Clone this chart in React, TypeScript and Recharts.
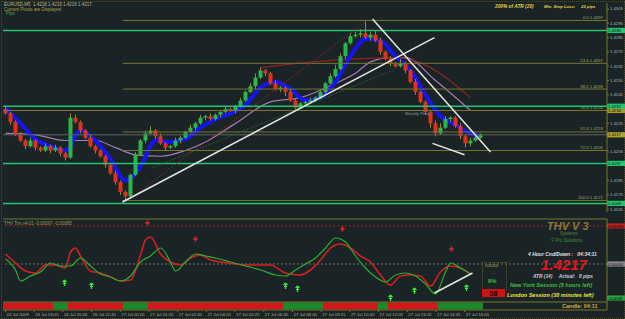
import React from 'react';
import { ComposedChart, Bar, Line, XAxis, YAxis, ReferenceLine, Scatter, Cell } from 'recharts';

// EURUSD M5 closes, read left to right off the price panel
const closes = [
  1.4232, 1.4226, 1.4217, 1.4213, 1.4209, 1.4213, 1.4208, 1.4206, 1.4209, 1.4206, 1.4208, 1.4204,
  1.4201, 1.4229, 1.4226, 1.4220, 1.4215, 1.4209, 1.4206, 1.4202, 1.4196, 1.4190, 1.4184, 1.4177,
  1.4174, 1.4189, 1.4203, 1.4213, 1.4218, 1.4220, 1.4216, 1.4211, 1.4208, 1.4209, 1.4213, 1.4215,
  1.4219, 1.4222, 1.4225, 1.4229, 1.4230, 1.4228, 1.4231, 1.4233, 1.4235, 1.4234, 1.4237, 1.4241,
  1.4247, 1.4251, 1.4257, 1.4262, 1.4260, 1.4253, 1.4249, 1.4250, 1.4247, 1.4241, 1.4236, 1.4239,
  1.4240, 1.4241, 1.4243, 1.4247, 1.4253, 1.4258, 1.4263, 1.4272, 1.4281, 1.4286, 1.4287, 1.4288,
  1.4285, 1.4287, 1.4283, 1.4275, 1.4270, 1.4267, 1.4265, 1.4267, 1.4262, 1.4254, 1.4247, 1.4240,
  1.4233, 1.4225, 1.4218, 1.4222, 1.4228, 1.4229, 1.4223, 1.4216, 1.4211, 1.4213, 1.4215, 1.4217,
];
const firstOpen = 1.4235;

// wick lengths in pips above / below the body
const wickUp = [
  2, 1, 1, 2, 1, 2, 1, 1, 2, 1, 2, 1,
  1, 3, 2, 1, 1, 2, 1, 1, 1, 1, 2, 1,
  1, 1, 2, 1, 2, 3, 1, 2, 1, 1, 2, 1,
  1, 2, 1, 2, 1, 2, 1, 1, 2, 1, 1, 2,
  1, 2, 3, 2, 1, 1, 2, 1, 1, 2, 1, 1,
  1, 2, 1, 2, 1, 2, 3, 2, 1, 2, 2, 3,
  9, 2, 3, 2, 1, 2, 1, 3, 1, 1, 2, 1,
  1, 1, 2, 3, 2, 1, 1, 2, 1, 2, 1, 1,
];
const wickDown = [
  1, 2, 1, 1, 2, 1, 2, 1, 1, 2, 1, 2,
  2, 1, 1, 2, 1, 1, 2, 1, 2, 1, 2, 2,
  3, 2, 1, 1, 2, 1, 2, 1, 2, 1, 1, 2,
  1, 1, 2, 1, 2, 1, 1, 2, 1, 1, 2, 1,
  1, 1, 2, 1, 2, 1, 1, 2, 3, 1, 2, 1,
  2, 1, 1, 1, 2, 1, 1, 1, 2, 1, 1, 2,
  1, 2, 1, 2, 1, 2, 1, 1, 2, 1, 2, 1,
  2, 3, 2, 1, 1, 2, 1, 2, 3, 2, 1, 1,
];

// indicator lines on the price panel: [candle, price]
const bluePts: [number, number][] = [
  [0, 1.4236], [3, 1.4225], [6, 1.4214], [9, 1.4209], [12, 1.4206], [15, 1.4220], [18, 1.4213],
  [21, 1.42], [24, 1.4185], [27, 1.4195], [30, 1.4213], [33, 1.4212], [36, 1.4214], [39, 1.4222],
  [42, 1.4228], [45, 1.4232], [48, 1.4238], [51, 1.425], [54, 1.4254], [57, 1.4249], [60, 1.4241],
  [63, 1.4243], [66, 1.4254], [69, 1.4272], [72, 1.4284], [75, 1.4283], [78, 1.4272], [81, 1.4262],
  [84, 1.4245], [87, 1.423], [90, 1.4224], [93, 1.4218], [95, 1.4216],
];
const purplePts: [number, number][] = [
  [0, 1.4218], [6, 1.4217], [12, 1.4213], [18, 1.4213], [22, 1.4208], [26, 1.4203], [31, 1.4202],
  [36, 1.4206], [40, 1.4212], [46, 1.4225], [53, 1.424], [59, 1.4243], [66, 1.4253], [70, 1.426],
  [73, 1.4268], [77, 1.4271], [80, 1.4271], [86, 1.4255], [93, 1.4234],
];
const maroonPts: [number, number][] = [
  [51, 1.4264], [65, 1.4269], [79, 1.4271], [85, 1.4264], [93, 1.4243],
];

const priceTicks = [
  1.4165, 1.4175, 1.4185, 1.4205, 1.4225,
  1.4245, 1.4255, 1.4265, 1.4275, 1.4285, 1.4295, 1.4305,
];
const fibLevels: [string, number][] = [
  ['0.0', 1.4297], ['23.6', 1.4267], ['38.2', 1.4249], ['50.0', 1.4234],
  ['61.8', 1.4219], ['72.0', 1.4206], ['100.0', 1.4171],
];
const greenLevels = [1.429, 1.4237, 1.4197, 1.4169];
const weeklyPivot = 1.4234;
const bid = 1.4217;

// hand drawn lines: [[candle, price], [candle, price]]
const trendLines: [number, number][][] = [
  [[23.4, 1.417], [85.8, 1.4285]],
  [[73.4, 1.4298], [97, 1.4205]],
  [[85.4, 1.4211], [91.8, 1.4203]],
];
const zigzag: [number, number][] = [[24, 1.417], [72.4, 1.4297]];
const greenDotted: [number, number][] = [[29.4, 1.4194], [77.4, 1.4262]];

// THV Trix panel
const trixRed: [number, number][] = [
  [0, 1.0], [2, 0.1], [4, -0.7], [6, -0.9], [8, -0.1], [10, -0.1], [12, -0.4], [13, 1.2], [14, 1.6],
  [15, 0.8], [17, -0.7], [19, -0.9], [21, -1.3], [23, -1.7], [25, -1.6], [27, 0.9], [28, 2.4], [29, 2.7],
  [31, 1.0], [33, 0.2], [35, -0.1], [37, 0.6], [39, 0.9], [41, 0.4], [43, 0.2], [46, 0.0], [49, -0.1],
  [53, -0.1], [56, -0.9], [59, -1.1], [61, -0.6], [63, 0.4], [65, 1.6], [67, 2.0], [69, 1.6], [71, 0.8],
  [73, 0.2], [75, -1.1], [77, -2.1], [79, -1.2], [81, -1.1], [83, -1.2], [85, -2.2], [87, -0.8],
  [89, -0.2], [91, -0.4], [93, -1.0],
];
const trixGreen: [number, number][] = [
  [0, 0.5], [2, -0.6], [3, -1.7], [5, -1.2], [7, -0.8], [9, 0.1], [11, -0.2], [13, -0.2], [15, 0.6],
  [17, -0.2], [19, -1.0], [21, -1.3], [23, -1.7], [25, -1.2], [27, 0.2], [29, 0.8], [31, 1.6], [33, 0.2],
  [34, -0.7], [36, 0.2], [38, 1.0], [40, 0.8], [42, 0.6], [45, 0.2], [48, -0.2], [51, -0.6], [54, -1.1],
  [56, -1.2], [58, -0.6], [60, 0.0], [62, 0.6], [64, 1.6], [66, 2.6], [68, 2.2], [70, 0.8], [72, -0.4],
  [74, -1.3], [76, -1.8], [78, -1.1], [80, -0.9], [82, -1.2], [84, -2.0], [86, -3.0], [88, -0.8],
  [89, 0.1], [91, -0.4], [93, -1.0],
];
const buyArrows = [
  { i: 11.8, v: -1.9 }, { i: 17.2, v: -2.2 }, { i: 56, v: -2.2 }, { i: 58.4, v: -2.5 },
  { i: 77, v: -3.4 }, { i: 81.8, v: -2.7 }, { i: 92.2, v: -2.4 },
];
const sellMarks = [
  { i: 28.4, v: 4.1 }, { i: 38, v: 2.5 }, { i: 67.4, v: 3.5 }, { i: 89.2, v: 1.5 },
];
const stripRuns: [string, number][] = [
  ['r', 10], ['g', 3], ['r', 11], ['g', 5], ['r', 27], ['g', 8], ['r', 11], ['g', 2], ['r', 10], ['g', 9],
];
const trixLine: [number, number][] = [[85.8, -2.9], [93.4, -0.9]];

const timeLabels = [
  '24 Jul 2009', '24 Jul 19:05', '24 Jul 20:45', '26 Jul 22:45', '27 Jul 00:05', '27 Jul 01:25',
  '27 Jul 02:45', '27 Jul 04:05', '27 Jul 05:25', '27 Jul 06:45', '27 Jul 08:05', '27 Jul 09:25',
  '27 Jul 10:45', '27 Jul 12:05', '27 Jul 13:25', '27 Jul 14:45', '27 Jul 16:05',
];

const BG = '#1a2325';
const OLIVE = '#77772e';
const GREEN_LVL = '#25c46e';
const FONT = '"Liberation Sans", Arial, sans-serif';
const X_DOMAIN: [number, number] = [-0.5, 120.3];
const Y_DOMAIN: [number, number] = [1.4163, 1.43092];
const MAIN_MARGIN = { top: 3, right: 0, left: 3, bottom: 1 };

const blueMap = new Map(bluePts);
const purpleMap = new Map(purplePts);
const maroonMap = new Map(maroonPts);
const redMap = new Map(trixRed);
const greenMap = new Map(trixGreen);
const stripColors = stripRuns.flatMap(([c, n]) => Array(n).fill(c));

const priceRows = closes.map((close, i) => {
  const open = i === 0 ? firstOpen : closes[i - 1];
  const high = Math.max(open, close) + wickUp[i] * 0.0001;
  const low = Math.min(open, close) - wickDown[i] * 0.0001;
  return {
    i, open, close, high, low,
    range: [low, high],
    blue: blueMap.get(i) ?? null,
    purple: purpleMap.get(i) ?? null,
    maroon: maroonMap.get(i) ?? null,
  };
});

const trixRows = closes.map((_, i) => ({
  i,
  red: redMap.get(i) ?? null,
  green: greenMap.get(i) ?? null,
  strip: [-4.55, -3.85],
}));

const Candle = (props: any) => {
  const { x, y, width, height, payload } = props;
  const top = Math.min(y, y + height);
  const h = Math.abs(height);
  const { open, close, high, low } = payload;
  const k = h / (high - low);
  const bodyTop = top + (high - Math.max(open, close)) * k;
  const bodyH = Math.max(1, Math.abs(close - open) * k);
  const cx = x + width / 2;
  const up = close >= open;
  return (
    <g>
      <line x1={cx} x2={cx} y1={top} y2={top + h} stroke="#8c8c30" strokeWidth={1} />
      <rect x={cx - 2} y={bodyTop} width={4} height={bodyH} fill={up ? '#26b84c' : '#e2301e'} />
    </g>
  );
};

const StripCell = (props: any) => {
  const { x, y, width, height, fill } = props;
  const cx = x + width / 2;
  return <rect x={cx - 2.6} y={Math.min(y, y + height)} width={5.2} height={Math.abs(height)} fill={fill} />;
};

const axisBox = (fill: string, text: string, color = '#0a0a0a') => (props: any) => {
  const vb = props.viewBox;
  const right = vb.x + vb.width;
  return (
    <g>
      <rect x={right} y={vb.y - 2.6} width={18} height={5.2} fill={fill} />
      <text x={right + 1} y={vb.y + 1.5} fontSize={4.2} fill={color} fontFamily={FONT}>{text}</text>
    </g>
  );
};

const fibLabel = (name: string, v: number) => (props: any) => {
  const vb = props.viewBox;
  return (
    <text x={vb.x + vb.width - 4} y={vb.y - 1.5} textAnchor="end" fontSize={4.3} fill="#a8a860" fontFamily={FONT}>
      {`${name}   ${v.toFixed(4)}`}
    </text>
  );
};

const UpArrow = (p: any) => (
  <path
    d={`M${p.cx},${p.cy - 3} L${p.cx - 2},${p.cy - 0.8} M${p.cx},${p.cy - 3} L${p.cx + 2},${p.cy - 0.8} M${p.cx},${p.cy - 3} V${p.cy + 3} M${p.cx - 1.5},${p.cy + 0.5} H${p.cx + 1.5}`}
    stroke="#3cf03c"
    strokeWidth={1.2}
    fill="none"
  />
);

const SellMark = (p: any) => (
  <path
    d={`M${p.cx - 2.2},${p.cy} H${p.cx + 2.2} M${p.cx},${p.cy - 2.5} V${p.cy + 2.5}`}
    stroke="#e02424"
    strokeWidth={1.6}
    fill="none"
  />
);

const TimeTick = (p: any) => (
  <g>
    <line x1={p.x} x2={p.x} y1={p.y - 2} y2={p.y} stroke={OLIVE} />
    <text x={p.x + 1} y={p.y + 3.5} fontSize={4.3} fill="#b0b090" fontFamily={FONT}>
      {timeLabels[p.index]}
    </text>
  </g>
);

const Txt = ({ x, y, size, color, bold, italic, children }: any) => (
  <div
    style={{
      position: 'absolute', left: x, top: y, fontSize: size, color, lineHeight: 1,
      fontWeight: bold ? 700 : 400, fontStyle: italic ? 'italic' : 'normal',
      fontFamily: FONT, whiteSpace: 'pre',
    }}
  >
    {children}
  </div>
);

export default function App() {
  return (
    <div style={{ position: 'absolute', left: 0, top: 0, width: 625, height: 319, background: BG, overflow: 'hidden' }}>
      <div style={{ position: 'absolute', left: 1, top: 1, width: 622, height: 316, border: `1px dotted #4a4a26` }} />

      {/* moving averages drawn underneath the candles */}
      <div style={{ position: 'absolute', left: 0, top: 0 }}>
        <ComposedChart width={625} height={213} data={priceRows} margin={MAIN_MARGIN}>
          <XAxis type="number" dataKey="i" domain={X_DOMAIN} hide allowDataOverflow />
          <YAxis orientation="right" type="number" domain={Y_DOMAIN} width={18} allowDataOverflow tick={false} axisLine={false} tickLine={false} />
          <Line dataKey="purple" type="monotone" stroke="#a57ab5" strokeWidth={1.2} dot={false} connectNulls isAnimationActive={false} />
          <Line dataKey="maroon" type="monotone" stroke="#8e2222" strokeWidth={1.2} dot={false} connectNulls isAnimationActive={false} />
          <Line dataKey="blue" type="monotone" stroke="#1414f5" strokeWidth={4} dot={false} connectNulls isAnimationActive={false} />
        </ComposedChart>
      </div>

      <div style={{ position: 'absolute', left: 0, top: 0 }}>
        <ComposedChart width={625} height={213} data={priceRows} margin={MAIN_MARGIN}>
          <XAxis type="number" dataKey="i" domain={X_DOMAIN} hide allowDataOverflow />
          <YAxis
            orientation="right"
            type="number"
            domain={Y_DOMAIN}
            ticks={priceTicks}
            width={18}
            allowDataOverflow
            tickSize={2}
            tickMargin={1}
            tick={{ fontSize: 4.2, fill: '#b8b8a0', fontFamily: FONT }}
            tickFormatter={(v: number) => v.toFixed(4)}
            axisLine={{ stroke: OLIVE }}
            tickLine={{ stroke: OLIVE }}
          />
          {fibLevels.map(([name, v]) => (
            <ReferenceLine
              key={name}
              segment={[{ x: 23.4, y: v }, { x: 120.3, y: v }]}
              stroke={OLIVE}
              strokeWidth={1}
              label={fibLabel(name, v)}
            />
          ))}
          <ReferenceLine y={weeklyPivot} stroke={OLIVE} strokeWidth={1} label={axisBox('#a89a2a', weeklyPivot.toFixed(4))} />
          <ReferenceLine y={bid} stroke="#5e6466" strokeWidth={1} label={axisBox('#b0a430', bid.toFixed(4))} />
          {greenLevels.map((v) => (
            <ReferenceLine key={v} y={v} stroke={GREEN_LVL} strokeWidth={1.5} label={axisBox(GREEN_LVL, v.toFixed(4))} />
          ))}
          <ReferenceLine segment={zigzag.map(([x, y]) => ({ x, y }))} stroke="#8a2a2a" strokeDasharray="1.5 1.5" />
          <ReferenceLine segment={greenDotted.map(([x, y]) => ({ x, y }))} stroke="#2a6a2a" strokeDasharray="1.5 1.5" />
          <Bar dataKey="range" barSize={3} shape={Candle} isAnimationActive={false} />
          {trendLines.map((seg, k) => (
            <ReferenceLine key={k} segment={seg.map(([x, y]) => ({ x, y }))} stroke="#e6e6e6" strokeWidth={1.5} />
          ))}
        </ComposedChart>
      </div>

      <div style={{ position: 'absolute', left: 0, top: 213 }}>
        <ComposedChart width={625} height={106} data={trixRows} margin={{ top: 6, right: 0, left: 3, bottom: 0 }}>
          <XAxis
            type="number"
            dataKey="i"
            domain={X_DOMAIN}
            allowDataOverflow
            ticks={timeLabels.map((_, k) => k * 5.74)}
            interval={0}
            height={9}
            tickSize={0}
            tick={TimeTick}
            axisLine={{ stroke: OLIVE }}
          />
          <YAxis
            orientation="right"
            type="number"
            domain={[-4.6, 4.5]}
            width={18}
            allowDataOverflow
            ticks={[4.5]}
            tickSize={2}
            tick={{ fontSize: 4.2, fill: '#b8b8a0', fontFamily: FONT }}
            tickFormatter={() => '0.00156'}
            axisLine={{ stroke: OLIVE }}
            tickLine={{ stroke: OLIVE }}
          />
          <ReferenceLine y={4.5} stroke={OLIVE} strokeWidth={1} />
          <ReferenceLine y={3.8} stroke="#b02020" strokeDasharray="2 2" label={axisBox('#c02020', '0.00093')} />
          <ReferenceLine y={0} stroke="#6a6a6a" strokeDasharray="2 2" label={axisBox('#8a8a8a', '0.00000')} />
          <ReferenceLine y={-3.4} stroke="none" label={axisBox('#2aa040', '-0.0008')} />
          <ReferenceLine y={-3.8} stroke={OLIVE} strokeWidth={1} />
          <Bar dataKey="strip" barSize={4} shape={StripCell} isAnimationActive={false}>
            {trixRows.map((r) => (
              <Cell key={r.i} fill={stripColors[r.i] === 'g' ? '#1c8a2a' : '#d21818'} />
            ))}
          </Bar>
          <Line dataKey="red" type="monotone" stroke="#d42020" strokeWidth={1.6} dot={false} connectNulls isAnimationActive={false} />
          <Line dataKey="green" type="monotone" stroke="#2fae2f" strokeWidth={1.2} dot={false} connectNulls isAnimationActive={false} />
          <Scatter data={buyArrows} dataKey="v" shape={UpArrow} isAnimationActive={false} />
          <Scatter data={sellMarks} dataKey="v" shape={SellMark} isAnimationActive={false} />
          <ReferenceLine segment={trixLine.map(([x, y]) => ({ x, y }))} stroke="#e6e6e6" strokeWidth={1.5} />
        </ComposedChart>
      </div>

      <Txt x={4} y={3} size={4.5} color="#b8b890">EURUSD,M5  1.4218 1.4219 1.4216 1.4217</Txt>
      <Txt x={4} y={7.5} size={4.5} color="#b0a040">Current Pivots are Displayed</Txt>
      <Txt x={6} y={11.5} size={4.5} color="#40a040">Pips</Txt>
      <Txt x={495} y={4.5} size={4.8} color="#eed040" bold italic>200% of ATR (20)</Txt>
      <Txt x={544} y={4.8} size={4.2} color="#eed040" bold italic>Min. Stop Loss:</Txt>
      <Txt x={581} y={4.8} size={4.2} color="#eed040" bold italic>23 pips</Txt>
      <Txt x={405} y={112} size={4.3} color="#9a9aa8">Weekly Pivot</Txt>

      <Txt x={4} y={221.5} size={4.5} color="#9a9a5a">THV Trix v4.01 -0.00097 -0.00085</Txt>
      <Txt x={547} y={221} size={11} color="#8a7a3a" bold italic>THV V 3</Txt>
      <Txt x={560} y={232} size={4.5} color="#5a8a3a">Systems</Txt>
      <Txt x={551} y={239} size={4.5} color="#3a9a3a">© Pro Solutions</Txt>
      <Txt x={528} y={251.5} size={5} color="#e0e0e0" bold italic>4 Hour Cnd/Down :   04:34:11</Txt>
      <Txt x={541} y={257} size={15} color="#e01818" bold italic>1.4217</Txt>
      <Txt x={533} y={274.5} size={4.8} color="#d0d0d0" bold italic>ATR (14)     Actual:   8 pips</Txt>
      <Txt x={510} y={283} size={5.5} color="#3fbf3f" bold italic>New York Session (5 hours left)</Txt>
      <Txt x={507} y={293} size={5.5} color="#f0e040" bold italic>London Session (38 minutes left)</Txt>
      <Txt x={562} y={304} size={5.5} color="#d8b048" bold>Candle: 04:11</Txt>

      <div style={{ position: 'absolute', left: 482, top: 262, width: 23, height: 26, border: '1px dotted #5a5a30' }} />
      <Txt x={485} y={264} size={4} color="#a8a860">000000</Txt>
      <Txt x={492} y={269} size={6} color="#c02020" bold>↓</Txt>
      <Txt x={488} y={278} size={6} color="#3fbf3f" bold>0%</Txt>
      <div style={{ position: 'absolute', left: 482, top: 289, width: 23, height: 8, background: '#cc1414' }} />
      <Txt x={489} y={289.5} size={7.5} color="#2a0000" bold>58</Txt>
    </div>
  );
}
